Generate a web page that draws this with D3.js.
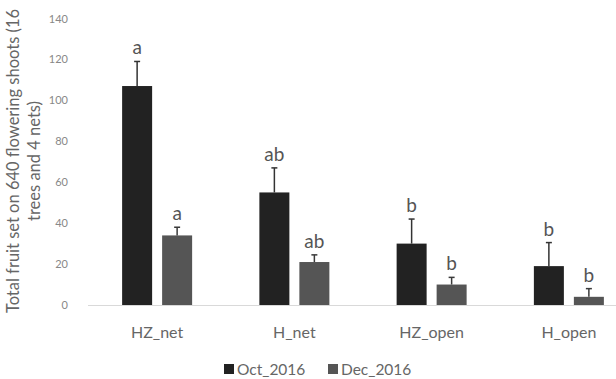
<!DOCTYPE html>
<html>
<head>
<meta charset="utf-8">
<script src="https://cdn.jsdelivr.net/npm/d3@7"></script>
<style>
  body { margin: 0; background: #fff; }
  text { font-family: Lato, "Open Sans", sans-serif; }
</style>
</head>
<body>
<div id="chart"></div>
<script>
// values
let categories = ["HZ_net", "H_net", "HZ_open", "H_open"];
let seriesNames = ["Oct_2016", "Dec_2016"];
let octValues = [107, 55, 30, 19];
let decValues = [34, 21, 10, 4];
let octErrors = [12, 12, 12, 11.5];
let decErrors = [4, 3.5, 3.5, 4];
let octLetters = ["a", "ab", "b", "b"];
let decLetters = ["a", "ab", "b", "b"];
let yTicks = [0, 20, 40, 60, 80, 100, 120, 140];

let colors = {"Oct_2016": "#222222", "Dec_2016": "#555555"};
let errColors = {"Oct_2016": "#333333", "Dec_2016": "#3a3a3a"};

let svg = d3.select("#chart")
    .append("svg")
    .attr("width", 616)
    .attr("height", 379);

let y = d3.scaleLinear()
    .domain([0, 140])
    .range([305, 18.5]);

let x = d3.scaleBand()
    .domain(categories)
    .range([88.5, 637.5]);

let xInner = d3.scaleBand()
    .domain(seriesNames)
    .range([0, 70])
    .paddingInner(0.25);

// y tick labels, no axis line
let yAxis = d3.axisLeft(y).tickValues(yTicks).tickSize(0).tickPadding(0);
let yg = svg.append("g")
    .attr("transform", "translate(68,0)")
    .call(yAxis);
yg.select(".domain").remove();
yg.selectAll("text")
    .attr("fill", "#888")
    .attr("font-size", "11px")
    .style("font-family", "Lato, sans-serif");

// baseline
svg.append("line")
    .attr("x1", 88)
    .attr("x2", 616)
    .attr("y1", y(0) + 0.5)
    .attr("y2", y(0) + 0.5)
    .attr("stroke", "#d9d9d9")
    .attr("stroke-width", 1);

let rows = [];
categories.forEach((c, i) => {
    rows.push({cat: c, s: "Oct_2016", v: octValues[i], e: octErrors[i], l: octLetters[i]});
    rows.push({cat: c, s: "Dec_2016", v: decValues[i], e: decErrors[i], l: decLetters[i]});
});

let groupOffset = (x.bandwidth() - 70) / 2;
let bx = d => x(d.cat) + groupOffset + xInner(d.s);
let bw = xInner.bandwidth();

let bars = svg.append("g");
bars.selectAll("rect")
    .data(rows)
    .enter()
    .append("rect")
    .attr("x", bx)
    .attr("y", d => y(d.v))
    .attr("width", bw)
    .attr("height", d => y(0) - y(d.v))
    .attr("fill", d => colors[d.s]);

// error bars (upper only)
let errs = svg.append("g");
rows.forEach(d => {
    let cx = bx(d) + bw / 2;
    errs.append("line")
        .attr("x1", cx).attr("x2", cx)
        .attr("y1", y(d.v)).attr("y2", y(d.v + d.e))
        .attr("stroke", errColors[d.s])
        .attr("stroke-width", 1.5);
    errs.append("line")
        .attr("x1", cx - 3).attr("x2", cx + 3)
        .attr("y1", y(d.v + d.e)).attr("y2", y(d.v + d.e))
        .attr("stroke", errColors[d.s])
        .attr("stroke-width", 1.5);
});

// significance letters
svg.append("g").selectAll("text")
    .data(rows)
    .enter()
    .append("text")
    .attr("x", d => bx(d) + bw / 2)
    .attr("y", d => y(d.v + d.e) - 7)
    .attr("text-anchor", "middle")
    .attr("fill", "#555")
    .attr("font-size", "19px")
    .text(d => d.l);

// category labels
svg.append("g").selectAll("text")
    .data(categories)
    .enter()
    .append("text")
    .attr("x", d => x(d) + x.bandwidth() / 2)
    .attr("y", 338)
    .attr("text-anchor", "middle")
    .attr("fill", "#666")
    .attr("font-size", "16px")
    .text(d => d);

// y title, two lines
let title = svg.append("text")
    .attr("transform", "translate(0,161) rotate(-90)")
    .attr("text-anchor", "middle")
    .attr("fill", "#666")
    .attr("font-size", "16.5px");
title.append("tspan")
    .attr("x", 0).attr("y", 19)
    .text("Total fruit set on 640 flowering shoots (16");
title.append("tspan")
    .attr("x", 0).attr("y", 40)
    .text("trees and 4 nets)");

// legend
let legend = svg.append("g");
let legendX = [224, 328];
seriesNames.forEach((s, i) => {
    legend.append("rect")
        .attr("x", legendX[i])
        .attr("y", 364)
        .attr("width", 10)
        .attr("height", 10)
        .attr("fill", colors[s]);
    legend.append("text")
        .attr("x", legendX[i] + 13)
        .attr("y", 374.5)
        .attr("fill", "#666")
        .attr("font-size", "15.5px")
        .text(s);
});
</script>
</body>
</html>
